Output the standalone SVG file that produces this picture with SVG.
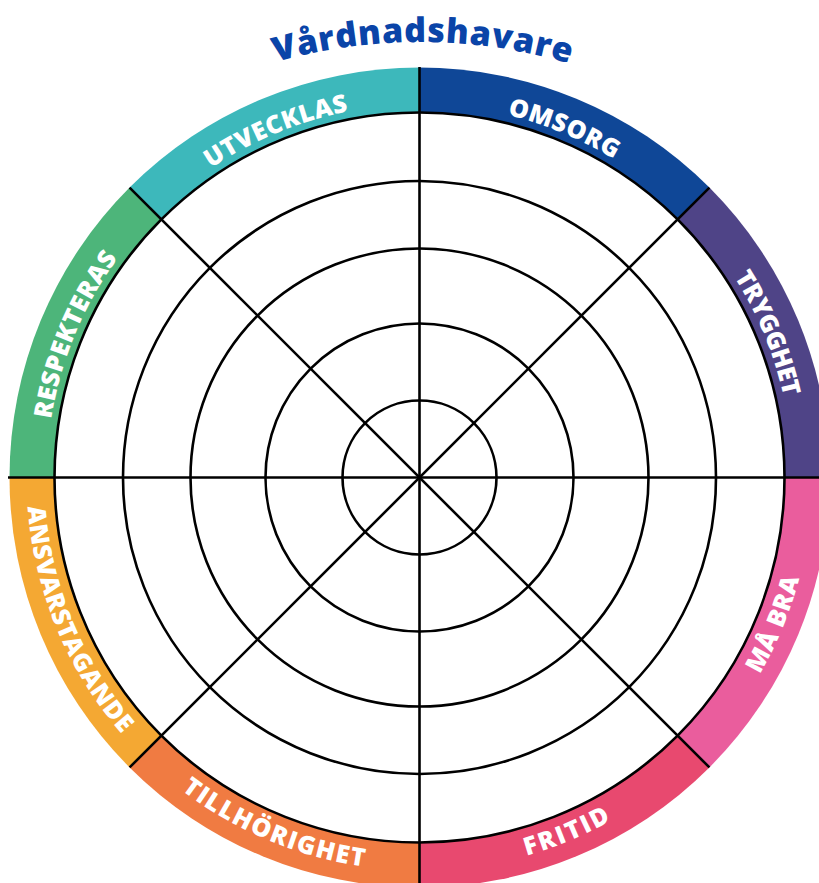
<svg xmlns="http://www.w3.org/2000/svg" width="819" height="883" viewBox="0 0 819 883">
<style>
.lbl{font-family:"Open Sans",Lato,"Liberation Sans",sans-serif;font-weight:800;font-size:25px;fill:#fff}
.ttl{font-family:"Open Sans",Lato,"Liberation Sans",sans-serif;font-weight:800;font-size:34px;fill:#0a44a8}
.ln{stroke:#000;stroke-width:2.6;fill:none}
</style>
<defs>
<path id="pTitle" d="M170,104.7 A530,530 0 0 1 670,104.7"/>
<path id="pUtv" d="M155.75,213.75 A373,373 0 0 1 419.5,104.5"/>
<path id="pOms" d="M419.5,104.5 A373,373 0 0 1 683.25,213.75"/>
<path id="pTry" d="M683.25,213.75 A373,373 0 0 1 792.5,477.5"/>
<path id="pRes" d="M46.5,477.5 A373,373 0 0 1 155.75,213.75"/>
<path id="pMab" d="M697.39,755.39 A393,393 0 0 0 812.5,477.5"/>
<path id="pFri" d="M419.5,870.5 A393,393 0 0 0 697.39,755.39"/>
<path id="pTil" d="M141.61,755.39 A393,393 0 0 0 419.5,870.5"/>
<path id="pAns" d="M26.5,477.5 A393,393 0 0 0 141.61,755.39"/>
</defs>
<rect width="819" height="883" fill="#fff"/>
<text class="ttl"><textPath href="#pTitle" startOffset="50.5%" text-anchor="middle" textLength="298" lengthAdjust="spacing">Vårdnadshavare</textPath></text>
<g id="omsorg"><path d="M419.5,477.5 L419.5,67.5 A410,410 0 0 1 709.41,187.59 Z" fill="#0f4797"/></g>
<g id="trygghet"><path d="M419.5,477.5 L709.41,187.59 A410,410 0 0 1 829.5,477.5 Z" fill="#4f4487"/></g>
<g id="ma-bra"><path d="M419.5,477.5 L829.5,477.5 A410,410 0 0 1 709.41,767.41 Z" fill="#ea5d9d"/></g>
<g id="fritid"><path d="M419.5,477.5 L709.41,767.41 A410,410 0 0 1 419.5,887.5 Z" fill="#e8496f"/></g>
<g id="tillhorighet"><path d="M419.5,477.5 L419.5,887.5 A410,410 0 0 1 129.59,767.41 Z" fill="#f07b42"/></g>
<g id="ansvarstagande"><path d="M419.5,477.5 L129.59,767.41 A410,410 0 0 1 9.5,477.5 Z" fill="#f4a833"/></g>
<g id="respekteras"><path d="M419.5,477.5 L9.5,477.5 A410,410 0 0 1 129.59,187.59 Z" fill="#4db57a"/></g>
<g id="utvecklas"><path d="M419.5,477.5 L129.59,187.59 A410,410 0 0 1 419.5,67.5 Z" fill="#3db8bb"/></g>
<g id="grid">
<circle cx="419.5" cy="477.5" r="365" class="ln" style="fill:#fff"/>
<circle cx="419.5" cy="477.5" r="296.5" class="ln"/>
<circle cx="419.5" cy="477.5" r="229" class="ln"/>
<circle cx="419.5" cy="477.5" r="154" class="ln"/>
<circle cx="419.5" cy="477.5" r="77" class="ln"/>
</g>
<g id="connectors">
<line x1="8" y1="477.5" x2="830" y2="477.5" class="ln"/>
<line x1="419.5" y1="67" x2="419.5" y2="888" class="ln"/>
<line x1="129.59" y1="187.59" x2="709.41" y2="767.41" class="ln"/>
<line x1="709.41" y1="187.59" x2="129.59" y2="767.41" class="ln"/>
</g>
<g id="labels">
<text class="lbl"><textPath href="#pUtv" startOffset="50%" text-anchor="middle" textLength="150" lengthAdjust="spacing">UTVECKLAS</textPath></text>
<text class="lbl"><textPath href="#pOms" startOffset="50%" text-anchor="middle" textLength="116" lengthAdjust="spacing">OMSORG</textPath></text>
<text class="lbl"><textPath href="#pTry" startOffset="50%" text-anchor="middle" textLength="130" lengthAdjust="spacing">TRYGGHET</textPath></text>
<text class="lbl"><textPath href="#pRes" startOffset="50%" text-anchor="middle" textLength="176" lengthAdjust="spacing">RESPEKTERAS</textPath></text>
<text class="lbl"><textPath href="#pMab" startOffset="50%" text-anchor="middle" textLength="104" lengthAdjust="spacing">MÅ BRA</textPath></text>
<text class="lbl"><textPath href="#pFri" startOffset="50%" text-anchor="middle" textLength="92" lengthAdjust="spacing">FRITID</textPath></text>
<text class="lbl"><textPath href="#pTil" startOffset="49.5%" text-anchor="middle" textLength="200" lengthAdjust="spacing">TILLHÖRIGHET</textPath></text>
<text class="lbl"><textPath href="#pAns" startOffset="50%" text-anchor="middle" textLength="250" lengthAdjust="spacing">ANSVARSTAGANDE</textPath></text>
</g>
</svg>
